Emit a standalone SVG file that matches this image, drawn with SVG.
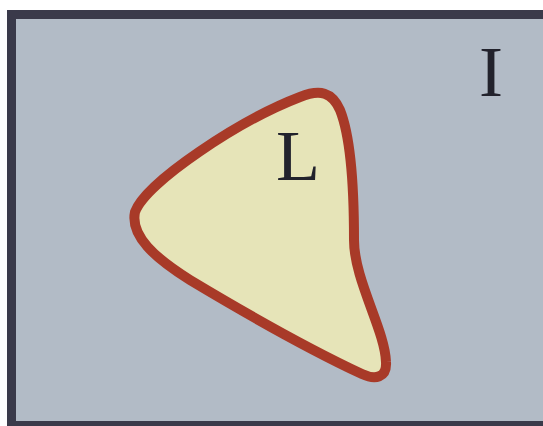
<svg xmlns="http://www.w3.org/2000/svg" width="543" height="426" viewBox="0 0 543 426">
<style>
.lbl{font-family:"Liberation Serif","Times New Roman",serif;font-size:72px;fill:#22222c}
</style>
<rect width="543" height="426" fill="#ffffff"/>
<g id="I">
<rect x="11.5" y="14.5" width="560" height="411" fill="#b2bbc6" stroke="#3a3a4a" stroke-width="9"/>
<text class="lbl" x="491" y="96" text-anchor="middle">I</text>
</g>
<g id="L">
<path d="M 135,212 C 146,182 240,120 300,97 C 320,89 332,92 340,110 C 352,140 354,200 354,240 C 354,280 385,330 386,362 C 387,378 375,380 362,374 C 300,345 240,310 190,280 C 155,258 130,236 135,212 Z" fill="#e6e4b8" stroke="#a83a28" stroke-width="10" stroke-linejoin="round"/>
<text class="lbl" x="298" y="180" text-anchor="middle">L</text>
</g>
</svg>
